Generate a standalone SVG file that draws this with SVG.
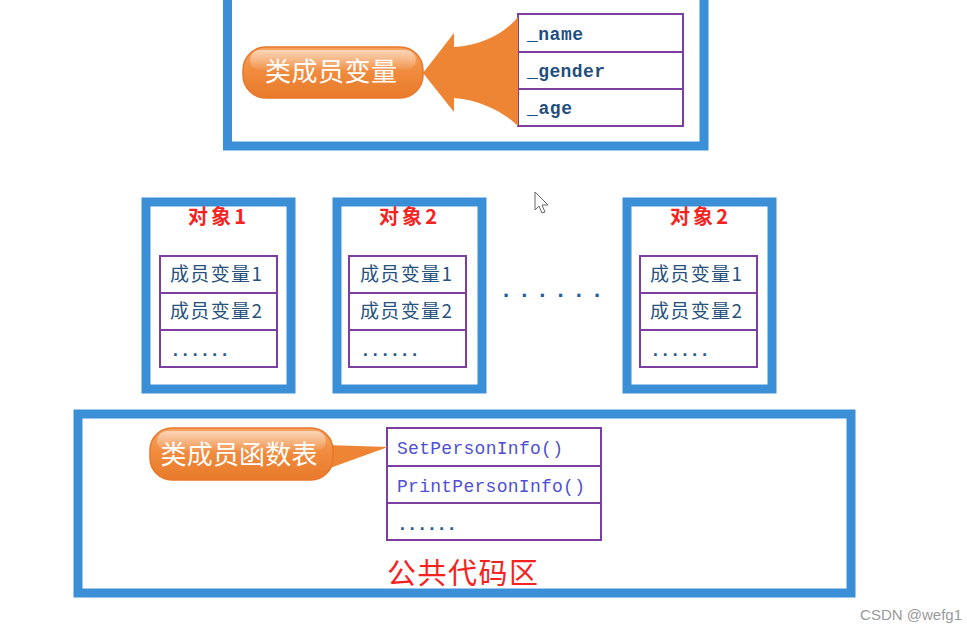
<svg xmlns="http://www.w3.org/2000/svg" width="967" height="631" viewBox="0 0 967 631">
<defs>
<linearGradient id="pill" x1="0" y1="0" x2="0" y2="1">
<stop offset="0" stop-color="#f6a463"/>
<stop offset="0.5" stop-color="#f08a3c"/>
<stop offset="1" stop-color="#e77a2a"/>
</linearGradient>
<linearGradient id="gloss" x1="0" y1="0" x2="0" y2="1">
<stop offset="0" stop-color="#ffffff" stop-opacity="0.55"/>
<stop offset="1" stop-color="#ffffff" stop-opacity="0.05"/>
</linearGradient>
<style>
.frame{fill:#ffffff;stroke:#3b8fd6;stroke-width:9}
.tbl{fill:#ffffff;stroke:#7d3f9f;stroke-width:2}
.row{stroke:#7d3f9f;stroke-width:2}
.mono{font-family:"Liberation Mono","DejaVu Sans Mono",monospace;font-size:18px;fill:#1f4f7e;font-weight:bold}
.fn{font-family:"Liberation Mono","DejaVu Sans Mono",monospace;font-size:18px;fill:#4f4fd6}
.mem{font-family:"Noto Sans CJK SC",sans-serif;font-size:19px;fill:#27527e}
.title{font-family:"Noto Sans CJK SC",sans-serif;font-size:20px;fill:#f5231f;font-weight:bold}
.pilltxt{font-family:"Noto Sans CJK SC",sans-serif;font-size:26px;fill:#ffffff}
.pill{fill:url(#pill);stroke:#e8772a;stroke-width:1.5}
.dots{font-family:"Liberation Mono",monospace;font-size:18px;fill:#2a5a8a;font-weight:bold}
</style>
</defs>

<g id="class-box">
<rect class="frame" x="227.5" y="-10" width="476.5" height="156"/>
</g>

<g id="member-vars-table">
<rect class="tbl" x="518" y="14" width="165" height="112"/>
<line class="row" x1="518" y1="52" x2="683" y2="52"/>
<line class="row" x1="518" y1="89" x2="683" y2="89"/>
<text class="mono" x="527" y="40" textLength="56">_name</text>
<text class="mono" x="527" y="77" textLength="78">_gender</text>
<text class="mono" x="527" y="114" textLength="45">_age</text>
</g>

<g id="callout-member-vars">
<path d="M423,73 L454,33 L454,47 C482,46 506,32 518,17 L518,126 C506,114 482,100 454,98 L454,112 Z" fill="#ee8535"/>
<rect class="pill" x="243" y="47" width="180" height="51" rx="23"/>
<rect x="250" y="50" width="166" height="20" rx="10" fill="url(#gloss)"/>
<text class="pilltxt" x="331" y="81" text-anchor="middle" textLength="132">类成员变量</text>
</g>

<g id="object1">
<rect class="frame" x="146" y="202" width="145" height="187"/>
<text class="title" x="217" y="224" text-anchor="middle" textLength="58">对象1</text>
<rect class="tbl" x="160" y="256" width="117" height="111"/>
<line class="row" x1="160" y1="293" x2="277" y2="293"/>
<line class="row" x1="160" y1="330" x2="277" y2="330"/>
<text class="mem" x="170" y="281" textLength="92">成员变量1</text>
<text class="mem" x="170" y="318" textLength="92">成员变量2</text>
<text class="dots" x="170" y="356" textLength="60">......</text>
</g>

<g id="object2">
<rect class="frame" x="337" y="202" width="145" height="187"/>
<text class="title" x="408" y="224" text-anchor="middle" textLength="58">对象2</text>
<rect class="tbl" x="349" y="256" width="117" height="111"/>
<line class="row" x1="349" y1="293" x2="466" y2="293"/>
<line class="row" x1="349" y1="330" x2="466" y2="330"/>
<text class="mem" x="360" y="281" textLength="92">成员变量1</text>
<text class="mem" x="360" y="318" textLength="92">成员变量2</text>
<text class="dots" x="360" y="356" textLength="60">......</text>
</g>

<g id="ellipsis">
<text x="503" y="297" font-family="Liberation Sans, sans-serif" font-size="22" font-weight="bold" fill="#1f5f9f" textLength="97">......</text>
</g>

<g id="object3">
<rect class="frame" x="627" y="202" width="145" height="187"/>
<text class="title" x="699" y="224" text-anchor="middle" textLength="58">对象2</text>
<rect class="tbl" x="640" y="256" width="117" height="111"/>
<line class="row" x1="640" y1="293" x2="757" y2="293"/>
<line class="row" x1="640" y1="330" x2="757" y2="330"/>
<text class="mem" x="650" y="281" textLength="92">成员变量1</text>
<text class="mem" x="650" y="318" textLength="92">成员变量2</text>
<text class="dots" x="650" y="356" textLength="60">......</text>
</g>

<g id="public-code-area">
<rect class="frame" x="78" y="414" width="773" height="179"/>
<text x="387" y="584" font-family="Noto Sans CJK SC, sans-serif" font-size="29" fill="#f5231f" textLength="151">公共代码区</text>
</g>

<g id="member-func-table">
<rect class="tbl" x="387" y="428" width="214" height="112"/>
<line class="row" x1="387" y1="466" x2="601" y2="466"/>
<line class="row" x1="387" y1="503" x2="601" y2="503"/>
<text class="fn" x="397" y="454" textLength="166">SetPersonInfo()</text>
<text class="fn" x="397" y="492" textLength="188">PrintPersonInfo()</text>
<text class="dots" x="397" y="530" textLength="60">......</text>
</g>

<g id="callout-member-funcs">
<path d="M326,445 L388,447 L330,468 Z" fill="#ee8535"/>
<rect class="pill" x="150" y="428" width="183" height="52" rx="22"/>
<rect x="157" y="431" width="169" height="20" rx="10" fill="url(#gloss)"/>
<text class="pilltxt" x="239" y="464" text-anchor="middle" textLength="157">类成员函数表</text>
</g>

<g id="connectors"></g>

<g id="cursor">
<path d="M535,192 L535,210 L539,206 L542,213 L545,212 L542,205 L548,205 Z" fill="#ffffff" stroke="#666666" stroke-width="1"/>
</g>

<text x="962" y="620" text-anchor="end" font-family="Liberation Sans, sans-serif" font-size="15" fill="#9a9a9a">CSDN @wefg1</text>
</svg>
